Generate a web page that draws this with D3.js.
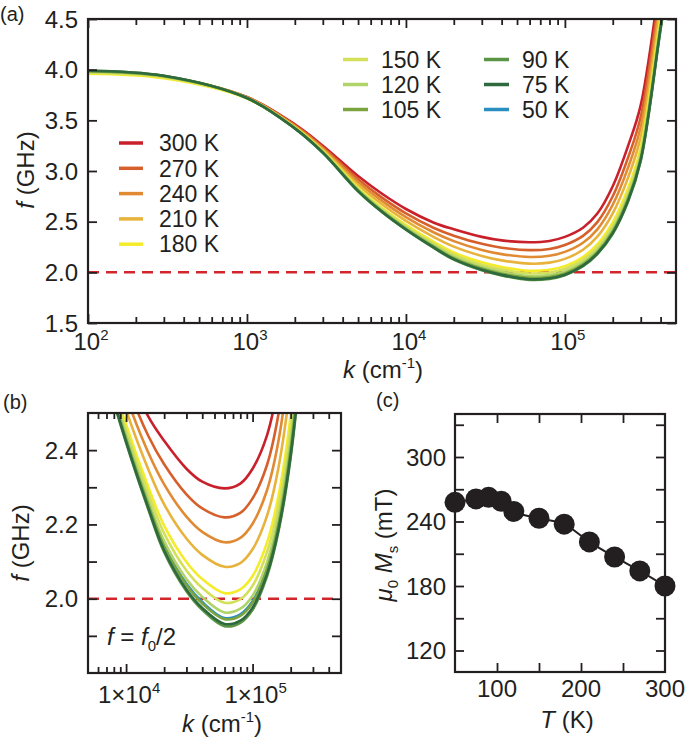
<!DOCTYPE html>
<html><head><meta charset="utf-8">
<script src="https://cdn.jsdelivr.net/npm/d3@7"></script>
<style>
body{margin:0;background:#fff;}
svg{display:block;font-family:"Liberation Sans",Arial,Helvetica,sans-serif;fill:#231f20;}
</style></head><body>
<svg id="chart" width="685" height="738"></svg>
<script>
// ---------- data ----------
const kValues = [100, 300, 1000, 2000, 3000, 5000, 7000, 10000, 15000, 20000, 30000, 40000, 60000, 80000, 100000, 130000, 160000, 200000, 250000, 300000, 400000, 500000];
const f300K = [3.98,3.93,3.73,3.46,3.25,2.95,2.78,2.625,2.49,2.425,2.35,2.315,2.297,2.31,2.35,2.44,2.58,2.85,3.25,3.65,4.90,5.80];
const f270K = [3.98,3.93,3.728,3.452,3.235,2.919,2.742,2.582,2.438,2.362,2.281,2.243,2.219,2.231,2.270,2.360,2.496,2.751,3.135,3.535,4.795,5.716];
const f240K = [3.984,3.934,3.726,3.444,3.223,2.892,2.710,2.545,2.393,2.308,2.221,2.180,2.152,2.164,2.202,2.292,2.424,2.667,3.036,3.436,4.705,5.644];
const f210K = [3.986,3.936,3.724,3.437,3.210,2.865,2.677,2.508,2.348,2.254,2.162,2.118,2.086,2.096,2.133,2.223,2.352,2.582,2.937,3.337,4.615,5.572];
const f180K = [3.96,3.915,3.715,3.430,3.197,2.836,2.643,2.469,2.300,2.197,2.099,2.053,2.015,2.025,2.061,2.151,2.276,2.493,2.832,3.232,4.520,5.496];
const f150K = [3.97,3.925,3.722,3.427,3.192,2.826,2.631,2.455,2.283,2.176,2.076,2.029,1.989,1.999,2.035,2.125,2.248,2.460,2.794,3.194,4.485,5.468];
const f120K = [3.98,3.935,3.721,3.424,3.187,2.815,2.618,2.441,2.265,2.155,2.053,2.005,1.963,1.973,2.008,2.098,2.220,2.427,2.755,3.155,4.450,5.440];
const f105K = [3.985,3.935,3.72,3.422,3.184,2.808,2.609,2.430,2.253,2.140,2.037,1.987,1.945,1.954,1.989,2.079,2.200,2.404,2.728,3.128,4.425,5.420];
const f90K  = [3.99,3.94,3.72,3.42,3.18,2.80,2.60,2.42,2.24,2.125,2.02,1.97,1.926,1.935,1.97,2.06,2.18,2.38,2.70,3.10,4.40,5.40];
const f75K  = [3.99,3.94,3.72,3.421,3.181,2.802,2.603,2.423,2.244,2.130,2.025,1.975,1.932,1.941,1.976,2.066,2.186,2.387,2.708,3.108,4.408,5.406];
const f50K  = [3.985,3.935,3.72,3.422,3.184,2.809,2.611,2.432,2.255,2.143,2.040,1.991,1.948,1.958,1.993,2.083,2.204,2.408,2.733,3.133,4.430,5.424];

const tempLabels = ["300 K","270 K","240 K","210 K","180 K","150 K","120 K","105 K","90 K","75 K","50 K"];
const tempColors = ["#c9212b","#d6602b","#e08a33","#e8b33c","#f4ec2a","#d5e05a","#b0d46a","#7ba43e","#5a9445","#2e6a3d","#2a8fc0"];
const tempSeries = [f300K,f270K,f240K,f210K,f180K,f150K,f120K,f105K,f90K,f75K,f50K];
const drawOrder = [10,0,1,2,3,4,5,6,7,8,9];

const xTicksA = [1e2,1e3,1e4,1e5];
const xTickLabelsA = ["2","3","4","5"];
const yTicksA = [1.5,2.0,2.5,3.0,3.5,4.0,4.5];
const xTicksB = [1e4,1e5];
const xTickLabelsB = ["4","5"];
const yTicksB = [1.9,2.0,2.1,2.2,2.3,2.4];
const yLabelsB = [2.0,2.2,2.4];

const msTemps = [50, 75, 90, 105, 120, 150, 180, 210, 240, 270, 300];
const msValues = [257.8, 261, 262.5, 258.8, 249.4, 243, 237.5, 221, 207, 194, 180];
const xTicksC = [100,150,200,250];
const xLabelsC = [100,200,300];
const yTicksC = [120,150,180,210,240,270,300,330];
const yLabelsC = [120,180,240,300];

// ---------- setup ----------
const svg = d3.select("#chart");
const ink = "#231f20";
const FS = 24, SUP = 15, LEG = 23;

function logMinors(lo, hi){
  const out=[]; for(let e=Math.floor(Math.log10(lo)); e<=Math.ceil(Math.log10(hi)); e++){
    for(let m=2;m<=9;m++){const v=m*Math.pow(10,e); if(v>lo && v<hi) out.push(v);} }
  return out;
}
function inwardAxes(g, x, y, box, xMaj, xMin, yMaj){
  const [L,R,T,B]=box;
  const mk=(axis,tr)=>{const a=g.append("g").attr("transform",tr).call(axis);a.select(".domain").remove();a.selectAll("line").attr("stroke",ink).attr("stroke-width",1.8);a.selectAll("text").remove();};
  mk(d3.axisBottom(x).tickValues(xMaj).tickSize(-9).tickFormat(""),`translate(0,${B})`);
  mk(d3.axisTop(x).tickValues(xMaj).tickSize(-9).tickFormat(""),`translate(0,${T})`);
  if(xMin){mk(d3.axisBottom(x).tickValues(xMin).tickSize(-6).tickFormat(""),`translate(0,${B})`);
    mk(d3.axisTop(x).tickValues(xMin).tickSize(-6).tickFormat(""),`translate(0,${T})`);}
  mk(d3.axisLeft(y).tickValues(yMaj).tickSize(-9).tickFormat(""),`translate(${L},0)`);
  mk(d3.axisRight(y).tickValues(yMaj).tickSize(-9).tickFormat(""),`translate(${R},0)`);
  g.append("rect").attr("x",L).attr("y",T).attr("width",R-L).attr("height",B-T).attr("fill","none").attr("stroke",ink).attr("stroke-width",2.2);
}
function powLabel(g,x,y,base,exp){
  const t=g.append("text").attr("x",x).attr("y",y).attr("text-anchor","middle").attr("font-size",FS).attr("fill",ink);
  t.append("tspan").text(base);
  t.append("tspan").attr("dy",-10).attr("font-size",SUP).text(exp);
}
function kTitle(g,x,y){
  const t=g.append("text").attr("x",x).attr("y",y).attr("text-anchor","middle").attr("font-size",FS).attr("fill",ink);
  t.append("tspan").attr("font-style","italic").text("k");
  t.append("tspan").text(" (cm");
  t.append("tspan").attr("dy",-10).attr("font-size",SUP).text("-1");
  t.append("tspan").attr("dy",10).text(")");
}
function fTitle(g,x,y){
  const t=g.append("text").attr("transform",`translate(${x},${y}) rotate(-90)`).attr("text-anchor","middle").attr("font-size",FS).attr("fill",ink);
  t.append("tspan").attr("font-style","italic").text("f");
  t.append("tspan").text(" (GHz)");
}
const smooth = d3.curveCatmullRom.alpha(0.5);

// ---------- panel (a) ----------
const A = {L:88,R:676,T:19,B:323};
const xA = d3.scaleLog().domain([1e2,5e5]).range([A.L,A.R]);
const yA = d3.scaleLinear().domain([1.5,4.5]).range([A.B,A.T]);
const gA = svg.append("g");
svg.append("clipPath").attr("id","clipA").append("rect").attr("x",A.L).attr("y",A.T).attr("width",A.R-A.L).attr("height",A.B-A.T);
const lineA = d3.line().x((d,i)=>xA(kValues[i])).y(d=>yA(d)).curve(smooth);
const cA = gA.append("g").attr("clip-path","url(#clipA)");
cA.append("line").attr("x1",A.L).attr("x2",A.R).attr("y1",yA(2)).attr("y2",yA(2)).attr("stroke","#d3262c").attr("stroke-width",2.5).attr("stroke-dasharray","11,7");
drawOrder.forEach(i=>cA.append("path").attr("d",lineA(tempSeries[i])).attr("fill","none").attr("stroke",tempColors[i]).attr("stroke-width",2.6));
inwardAxes(gA,xA,yA,[A.L,A.R,A.T,A.B],xTicksA,logMinors(1e2,5e5),yTicksA);
yTicksA.forEach(v=>gA.append("text").attr("x",78).attr("y",yA(v)).attr("dy","0.36em").attr("text-anchor","end").attr("font-size",FS).attr("fill",ink).text(v.toFixed(1)));
xTicksA.forEach((v,i)=>powLabel(gA,xA(v)+3,350,"10",xTickLabelsA[i]));
kTitle(gA,383,378);
fTitle(gA,34,170);
gA.append("text").attr("x",0).attr("y",21).attr("font-size",20).attr("fill",ink).text("(a)");

// legends
const legLeft=[0,1,2,3,4];
legLeft.forEach((i,j)=>{const y=143+j*25.3;
  gA.append("line").attr("x1",119).attr("x2",143).attr("y1",y).attr("y2",y).attr("stroke",tempColors[i]).attr("stroke-width",3.5);
  gA.append("text").attr("x",159).attr("y",y).attr("dy","0.36em").attr("font-size",LEG).attr("fill",ink).text(tempLabels[i]);});
const legRight=[[5,6,7],[8,9,10]];
legRight.forEach((col,c)=>col.forEach((i,j)=>{const y=59.5+j*25;const x0=c?484:343;
  gA.append("line").attr("x1",x0).attr("x2",x0+25).attr("y1",y).attr("y2",y).attr("stroke",tempColors[i]).attr("stroke-width",3.5);
  gA.append("text").attr("x",x0+38).attr("y",y).attr("dy","0.36em").attr("font-size",LEG).attr("fill",ink).text(tempLabels[i]);}));

// ---------- panel (b) ----------
const B = {L:88,R:341,T:413,B:673};
const xB = d3.scaleLog().domain([5e3,5e5]).range([B.L,B.R]);
const yB = d3.scaleLinear().domain([1.8,2.5]).range([B.B,B.T]);
const gB = svg.append("g");
svg.append("clipPath").attr("id","clipB").append("rect").attr("x",B.L).attr("y",B.T).attr("width",B.R-B.L).attr("height",B.B-B.T);
const lineB = d3.line().x((d,i)=>xB(kValues[i])).y(d=>yB(d)).curve(smooth);
const cB = gB.append("g").attr("clip-path","url(#clipB)");
cB.append("line").attr("x1",B.L).attr("x2",B.R).attr("y1",yB(2)).attr("y2",yB(2)).attr("stroke","#d3262c").attr("stroke-width",2.5).attr("stroke-dasharray","11,7");
drawOrder.forEach(i=>cB.append("path").attr("d",lineB(tempSeries[i])).attr("fill","none").attr("stroke",tempColors[i]).attr("stroke-width",2.6));
inwardAxes(gB,xB,yB,[B.L,B.R,B.T,B.B],xTicksB,logMinors(5e3,5e5),yTicksB);
yLabelsB.forEach(v=>gB.append("text").attr("x",78).attr("y",yB(v)).attr("dy","0.36em").attr("text-anchor","end").attr("font-size",FS).attr("fill",ink).text(v.toFixed(1)));
xTicksB.forEach((v,i)=>powLabel(gB,xB(v)+3,703,"1×10",xTickLabelsB[i]));
kTitle(gB,222,732);
fTitle(gB,29,543);
gB.append("text").attr("x",3).attr("y",409).attr("font-size",20).attr("fill",ink).text("(b)");
{const t=gB.append("text").attr("x",107).attr("y",645).attr("font-size",FS).attr("fill",ink);
 t.append("tspan").attr("font-style","italic").text("f");
 t.append("tspan").text(" = ");
 t.append("tspan").attr("font-style","italic").text("f");
 t.append("tspan").attr("dy",6).attr("font-size",SUP).text("0");
 t.append("tspan").attr("dy",-6).text("/2");}

// ---------- panel (c) ----------
const C = {L:455,R:665,T:414,B:672};
const xC = d3.scaleLinear().domain([50,300]).range([C.L,C.R]);
const yC = d3.scaleLinear().domain([100,340]).range([C.B,C.T]);
const gC = svg.append("g");
inwardAxes(gC,xC,yC,[C.L,C.R,C.T,C.B],xTicksC,null,yTicksC);
const lineC = d3.line().x((d,i)=>xC(msTemps[i])).y(d=>yC(d)).curve(d3.curveMonotoneX);
gC.append("path").attr("d",lineC(msValues)).attr("fill","none").attr("stroke",ink).attr("stroke-width",2);
gC.selectAll("circle.pt").data(msValues).enter().append("circle").attr("class","pt")
  .attr("cx",(d,i)=>xC(msTemps[i])).attr("cy",d=>yC(d)).attr("r",10.5).attr("fill","#231f20");
yLabelsC.forEach(v=>gC.append("text").attr("x",446).attr("y",yC(v)).attr("dy","0.36em").attr("text-anchor","end").attr("font-size",FS).attr("fill",ink).text(v));
xLabelsC.forEach(v=>gC.append("text").attr("x",xC(v)).attr("y",697).attr("text-anchor","middle").attr("font-size",FS).attr("fill",ink).text(v));
{const t=gC.append("text").attr("x",567).attr("y",728).attr("text-anchor","middle").attr("font-size",FS).attr("fill",ink);
 t.append("tspan").attr("font-style","italic").text("T");
 t.append("tspan").text(" (K)");}
{const t=gC.append("text").attr("transform","translate(392,545) rotate(-90)").attr("text-anchor","middle").attr("font-size",FS).attr("fill",ink);
 t.append("tspan").attr("font-style","italic").text("μ");
 t.append("tspan").attr("dy",6).attr("font-size",SUP).text("0");
 t.append("tspan").attr("dy",-6).text(" ");
 t.append("tspan").attr("font-style","italic").text("M");
 t.append("tspan").attr("dy",6).attr("font-size",SUP).text("s");
 t.append("tspan").attr("dy",-6).text(" (mT)");}
gC.append("text").attr("x",376).attr("y",407).attr("font-size",20).attr("fill",ink).text("(c)");
</script>
</body></html>
